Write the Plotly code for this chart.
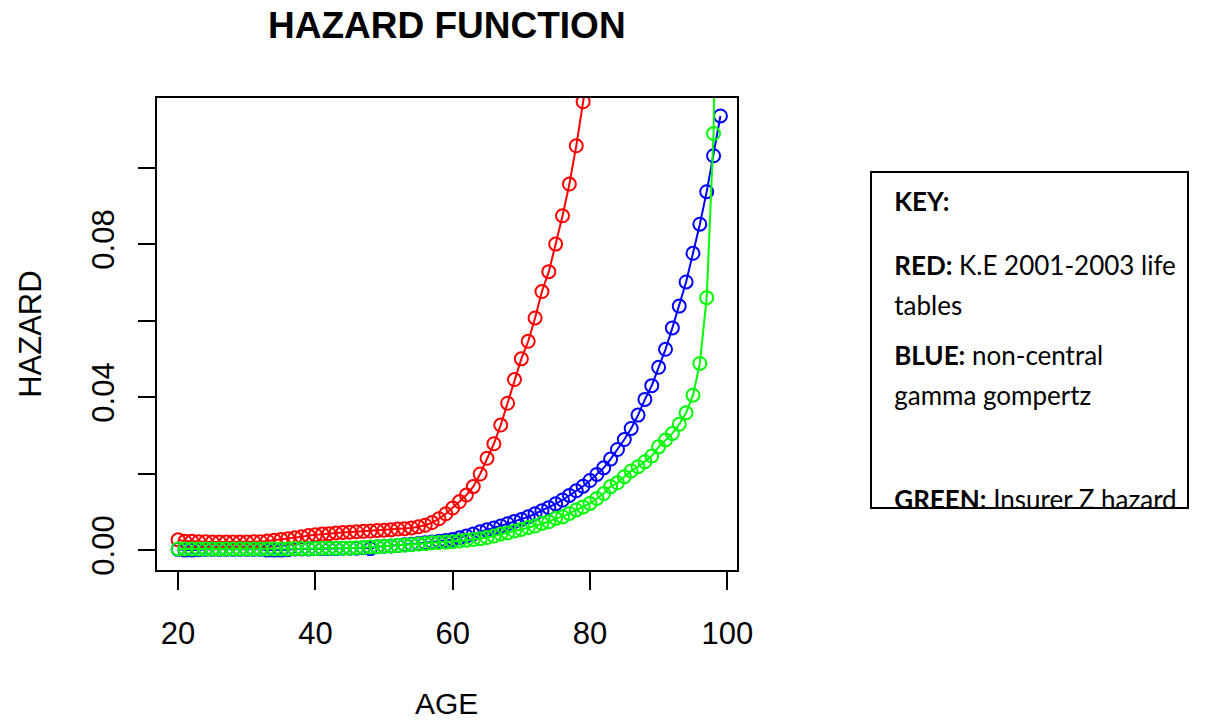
import plotly.graph_objects as go

# ---------------- data ----------------
ages = list(range(20, 100))

red_ages = list(range(20, 81))
red_hazard = [
    0.0027, 0.0023, 0.0023, 0.0022, 0.0022, 0.0021, 0.0021, 0.0021, 0.0021, 0.0021,  # 20-29
    0.0021, 0.0022, 0.0022, 0.0024, 0.0026, 0.0028, 0.0030, 0.0032, 0.0035, 0.0038,  # 30-39
    0.0040, 0.0042, 0.0043, 0.0045, 0.0046, 0.0047, 0.0048, 0.0049, 0.0050, 0.0051,  # 40-49
    0.0052, 0.0053, 0.0055, 0.0056, 0.0058, 0.0061, 0.0065, 0.0072, 0.0082, 0.0095,  # 50-59
    0.0110, 0.0127, 0.0144, 0.0166, 0.0199, 0.0240, 0.0278, 0.0327, 0.0384, 0.0446,  # 60-69
    0.0500, 0.0546, 0.0607, 0.0676, 0.0728, 0.0800, 0.0874, 0.0957, 0.1057, 0.1172,  # 70-79
    0.1290,                                                                          # 80
]

blue_hazard = [
    0.0002, 0.0000, 0.0000, 0.0001, 0.0002, 0.0002, 0.0002, 0.0002, 0.0002, 0.0002,  # 20-29
    0.0002, 0.0002, 0.0002, 0.0000, 0.0000, 0.0000, 0.0001, 0.0003, 0.0003, 0.0003,  # 30-39
    0.0004, 0.0004, 0.0004, 0.0004, 0.0005, 0.0005, 0.0005, 0.0006, 0.0004, 0.0009,  # 40-49
    0.0010, 0.0011, 0.0012, 0.0014, 0.0015, 0.0017, 0.0019, 0.0021, 0.0023, 0.0025,  # 50-59
    0.0028, 0.0032, 0.0037, 0.0042, 0.0048, 0.0053, 0.0058, 0.0063, 0.0069, 0.0075,  # 60-69
    0.0080, 0.0087, 0.0095, 0.0103, 0.0111, 0.0121, 0.0131, 0.0143, 0.0155, 0.0167,  # 70-79
    0.0182, 0.0198, 0.0215, 0.0238, 0.0263, 0.0289, 0.0318, 0.0353, 0.0394, 0.0430,  # 80-89
    0.0478, 0.0525, 0.0581, 0.0638, 0.0701, 0.0776, 0.0852, 0.0937, 0.1031, 0.1135,  # 90-99
]

green_hazard = [
    0.0003, 0.0003, 0.0003, 0.0003, 0.0003, 0.0003, 0.0003, 0.0003, 0.0003, 0.0003,  # 20-29
    0.0003, 0.0003, 0.0003, 0.0003, 0.0003, 0.0003, 0.0003, 0.0004, 0.0004, 0.0004,  # 30-39
    0.0004, 0.0005, 0.0005, 0.0005, 0.0005, 0.0005, 0.0006, 0.0007, 0.0008, 0.0009,  # 40-49
    0.0010, 0.0011, 0.0012, 0.0013, 0.0014, 0.0016, 0.0017, 0.0019, 0.0020, 0.0021,  # 50-59
    0.0022, 0.0024, 0.0026, 0.0028, 0.0030, 0.0033, 0.0037, 0.0042, 0.0045, 0.0050,  # 60-69
    0.0054, 0.0059, 0.0063, 0.0070, 0.0074, 0.0083, 0.0087, 0.0096, 0.0105, 0.0113,  # 70-79
    0.0122, 0.0135, 0.0148, 0.0166, 0.0176, 0.0192, 0.0207, 0.0218, 0.0231, 0.0246,  # 80-89
    0.0270, 0.0288, 0.0305, 0.0329, 0.0359, 0.0405, 0.0488, 0.0660, 0.1089, 0.2500,  # 90-99
]

x_tick_vals = [20, 40, 60, 80, 100]
y_tick_vals = [0.00, 0.02, 0.04, 0.06, 0.08, 0.10]
y_tick_text = ["0.00", "", "0.04", "", "0.08", ""]

key_lines = [
    "<b>KEY:</b>",
    "<b>RED:</b> K.E 2001-2003 life",
    "tables",
    "<b>BLUE:</b> non-central",
    "gamma gompertz",
    "<b>GREEN:</b> Insurer Z hazard",
]

# ---------------- layout geometry (pixels) ----------------
W, H = 1215, 723
L, R, T, B = 157, 13, 98, 153
PW = W - L - R
PH = H - T - B
main_right = 745
key_left, key_right, key_top, key_bottom = 882, 1202, 173, 507
key_text_y = [204, 268, 308, 358, 398, 502]   # vertical centres in page pixels
key_text_x = 905

def px_x(p):
    return (p - L) / PW

def px_y(p):
    return 1 - (p - T) / PH

AX_FONT = dict(family="Liberation Sans, Arial, sans-serif", size=31, color="black")

fig = go.Figure()

for xs, ys, col in [(red_ages, red_hazard, "#FF0000"),
                    (ages, blue_hazard, "#0000FF"),
                    (ages, green_hazard, "#00FF00")]:
    fig.add_trace(go.Scatter(
        x=xs, y=ys, mode="lines+markers",
        line=dict(color=col, width=2),
        marker=dict(symbol="circle-open", size=13, color=col, line=dict(width=2, color=col)),
        showlegend=False, cliponaxis=True,
        xaxis="x", yaxis="y",
    ))

# key text (clipped to the key box)
fig.add_trace(go.Scatter(
    x=[key_text_x - key_left] * len(key_lines),
    y=[key_bottom - v for v in key_text_y],
    text=key_lines, mode="text", textposition="middle right",
    textfont=dict(family="Lato, sans-serif", size=26, color="black"),
    showlegend=False, cliponaxis=True, hoverinfo="skip",
    xaxis="x2", yaxis="y2",
))

fig.update_layout(
    width=W, height=H,
    margin=dict(l=L, r=R, t=T, b=B, pad=0),
    paper_bgcolor="white", plot_bgcolor="white",
    showlegend=False,
    xaxis=dict(
        domain=[0, px_x(main_right)], range=[16.93, 101.35],
        tickvals=x_tick_vals, ticks="outside", ticklen=18, tickwidth=1.5, tickcolor="black",
        showline=True, linewidth=1.5, linecolor="black", mirror=True,
        showgrid=False, zeroline=False, tickfont=AX_FONT, ticklabelstandoff=17,
    ),
    yaxis=dict(
        domain=[0, 1], range=[-0.0052, 0.1182],
        tickvals=y_tick_vals, ticktext=y_tick_text, tickangle=-90,
        ticks="outside", ticklen=17, tickwidth=1.5, tickcolor="black",
        showline=True, linewidth=1.5, linecolor="black", mirror=True,
        showgrid=False, zeroline=False, tickfont=AX_FONT, ticklabelstandoff=12,
    ),
    xaxis2=dict(
        domain=[px_x(key_left), px_x(key_right)], range=[0, key_right - key_left],
        showline=True, linewidth=1.5, linecolor="black", mirror=True,
        showgrid=False, zeroline=False, showticklabels=False, ticks="",
        anchor="y2",
    ),
    yaxis2=dict(
        domain=[px_y(key_bottom), px_y(key_top)], range=[0, key_bottom - key_top],
        showline=True, linewidth=1.5, linecolor="black", mirror=True,
        showgrid=False, zeroline=False, showticklabels=False, ticks="",
        anchor="x2",
    ),
    annotations=[
        dict(text="<b>HAZARD FUNCTION</b>", xref="paper", yref="paper",
             x=px_x(451), y=px_y(25), xanchor="center", yanchor="middle", showarrow=False,
             font=dict(family="Liberation Sans, Arial, sans-serif", size=37, color="black")),
        dict(text="AGE", xref="paper", yref="paper",
             x=px_x(451), y=px_y(703), xanchor="center", yanchor="middle", showarrow=False,
             font=dict(family="Liberation Sans, Arial, sans-serif", size=30, color="black")),
        dict(text="HAZARD", xref="paper", yref="paper", textangle=-90,
             x=px_x(28), y=px_y(334), xanchor="center", yanchor="middle", showarrow=False,
             font=AX_FONT),
    ],
)

fig.write_html("out.html")
